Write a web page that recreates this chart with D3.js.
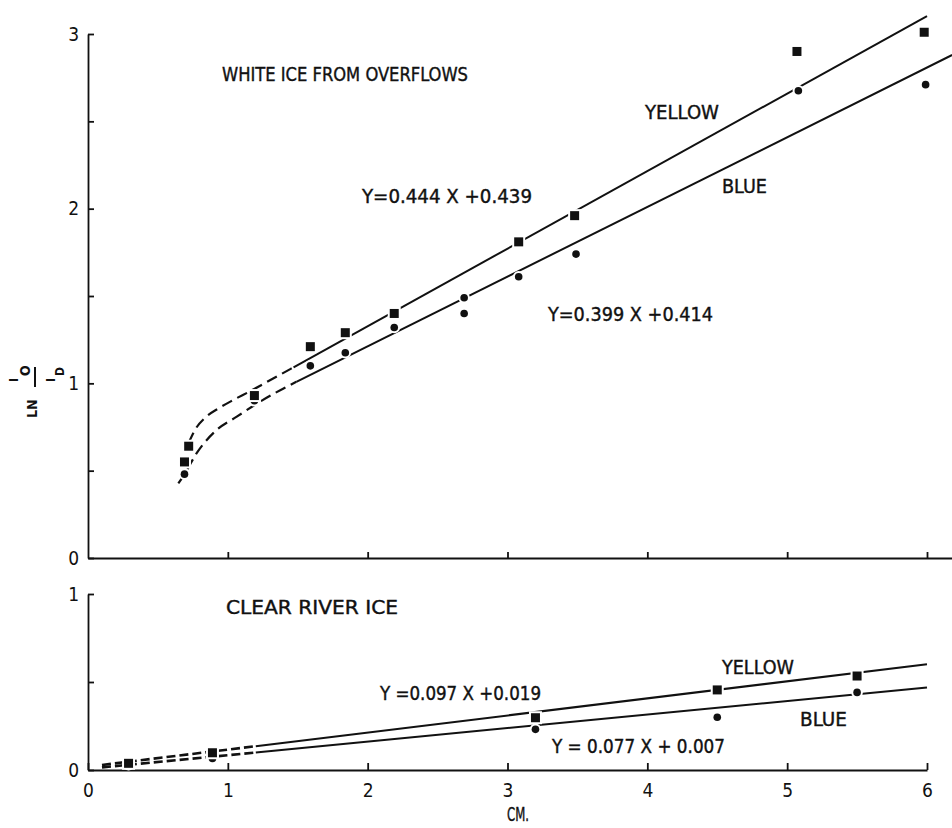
<!DOCTYPE html>
<html>
<head>
<meta charset="utf-8">
<title>Light absorption in ice</title>
<script src="https://d3js.org/d3.v7.min.js"></script>
<style>
  body { margin: 0; background: #fff; }
  svg text { font-family: "DejaVu Sans Condensed", "Liberation Sans Narrow", "DejaVu Sans", sans-serif; fill: #111; }
</style>
</head>
<body>
<div id="chart"></div>
<script>
// white ice from overflows (upper panel)
var topYellowX = [0.69, 0.72, 1.19, 1.59, 1.84, 2.19, 3.08, 3.48, 5.07, 5.98];
var topYellowY = [0.55, 0.64, 0.93, 1.21, 1.29, 1.40, 1.81, 1.96, 2.90, 3.01];
var topBlueX = [0.69, 1.19, 1.59, 1.84, 2.19, 2.69, 2.69, 3.08, 3.49, 5.08, 5.99];
var topBlueY = [0.48, 0.90, 1.10, 1.175, 1.32, 1.49, 1.40, 1.61, 1.74, 2.675, 2.71];
// hand drawn dashed start of the curves
var topYellowDash = [[0.72, 0.66], [0.77, 0.74], [0.84, 0.805], [0.93, 0.855], [1.04, 0.905], [1.16, 0.955], [1.28, 1.008], [1.47, 1.092]];
var topBlueDash = [[0.646, 0.427], [0.694, 0.485], [0.777, 0.60], [0.92, 0.733], [1.064, 0.809], [1.23, 0.895], [1.49, 1.009]];
// fitted lines: slope, intercept, solid from, solid to
var topYellowFit = [0.444, 0.439, 1.47, 6.0];
var topBlueFit = [0.399, 0.414, 1.49, 6.18];

// clear river ice (lower panel)
var botX = [0.29, 0.89, 3.20, 4.50, 5.50];
var botYellowY = [0.038, 0.098, 0.297, 0.455, 0.534];
var botBlueY = [0.03, 0.066, 0.231, 0.30, 0.441];
var botYellowFit = [0.097, 0.019, 1.2, 6.0];
var botBlueFit = [0.077, 0.007, 1.2, 6.0];
var botDashFrom = 0.1;

var xTicks = [0, 1, 2, 3, 4, 5, 6];
var topYTicks = [0, 0.5, 1, 1.5, 2, 2.5, 3];
var botYTicks = [0, 0.5, 1];

var width = 952, height = 828;

var svg = d3.select("#chart")
    .append("svg")
        .attr("width", width)
        .attr("height", height);

var x = d3.scaleLinear().domain([0, 6]).range([88, 927]);
var xTop = d3.scaleLinear().domain([0, x.invert(952)]).range([88, 952]);
var yTop = d3.scaleLinear().domain([0, 3]).range([558, 34]);
var yBot = d3.scaleLinear().domain([0, 1]).range([770, 594]);

function intLabel(d) { return d % 1 === 0 ? d : ""; }

// upper axes
svg.append("g")
    .attr("transform", "translate(" + x(0) + ",0)")
    .call(d3.axisLeft(yTop).tickValues(topYTicks).tickFormat(intLabel).tickSizeInner(-6).tickSizeOuter(0).tickPadding(9));
svg.append("g")
    .attr("transform", "translate(0," + yTop(0) + ")")
    .call(d3.axisBottom(xTop).tickValues(xTicks.slice(1)).tickFormat("").tickSizeInner(-6).tickSizeOuter(0));

// lower axes
svg.append("g")
    .attr("transform", "translate(" + x(0) + ",0)")
    .call(d3.axisLeft(yBot).tickValues(botYTicks).tickFormat(intLabel).tickSizeInner(-6).tickSizeOuter(0).tickPadding(9));
svg.append("g")
    .attr("transform", "translate(0," + yBot(0) + ")")
    .call(d3.axisBottom(x).tickValues(xTicks).tickFormat(d3.format("d")).tickSizeInner(-7).tickSizeOuter(0).tickPadding(14));

svg.selectAll(".domain, .tick line")
    .attr("stroke", "#111")
    .attr("stroke-width", 1.8);
svg.selectAll(".tick text")
    .style("font-size", "19px")
    .attr("fill", "#111");

// lines
var line = d3.line().curve(d3.curveMonotoneX);

function fitPoints(fit, xs, yScale) {
    return [[x(xs[0]), yScale(fit[0] * xs[0] + fit[1])], [x(xs[1]), yScale(fit[0] * xs[1] + fit[1])]];
}

function drawSolid(fit, yScale) {
    svg.append("path")
        .attr("d", line(fitPoints(fit, [fit[2], fit[3]], yScale)))
        .attr("fill", "none")
        .attr("stroke", "#111")
        .attr("stroke-width", 2);
}

drawSolid(topYellowFit, yTop);
drawSolid(topBlueFit, yTop);
drawSolid(botYellowFit, yBot);
drawSolid(botBlueFit, yBot);

[topYellowDash, topBlueDash].forEach(function(pts) {
    svg.append("path")
        .attr("d", line(pts.map(function(p) { return [x(p[0]), yTop(p[1])]; })))
        .attr("fill", "none")
        .attr("stroke", "#111")
        .attr("stroke-width", 2.2)
        .attr("stroke-dasharray", "11,6");
});

[botYellowFit, botBlueFit].forEach(function(fit) {
    svg.append("path")
        .attr("d", line(fitPoints(fit, [botDashFrom, fit[2]], yBot)))
        .attr("fill", "none")
        .attr("stroke", "#111")
        .attr("stroke-width", 2.6)
        .attr("stroke-dasharray", "9,4");
});

// markers (white halo gives the little breaks in the drawn lines)
function squares(xs, ys, yScale) {
    svg.append("g").selectAll("rect")
        .data(xs)
        .enter()
        .append("rect")
            .attr("x", function(d) { return x(d) - 4.5; })
            .attr("y", function(d, i) { return yScale(ys[i]) - 4.5; })
            .attr("width", 9)
            .attr("height", 9)
            .attr("fill", "#111")
            .attr("stroke", "#fff")
            .attr("stroke-width", 4)
            .style("paint-order", "stroke");
}
function circles(xs, ys, yScale) {
    svg.append("g").selectAll("circle")
        .data(xs)
        .enter()
        .append("circle")
            .attr("cx", function(d) { return x(d); })
            .attr("cy", function(d, i) { return yScale(ys[i]); })
            .attr("r", 3.8)
            .attr("fill", "#111")
            .attr("stroke", "#fff")
            .attr("stroke-width", 4)
            .style("paint-order", "stroke");
}

circles(topBlueX, topBlueY, yTop);
squares(topYellowX, topYellowY, yTop);
circles(botX, botBlueY, yBot);
squares(botX, botYellowY, yBot);

// annotations
function label(px, py, str, len) {
    svg.append("text")
        .attr("x", px)
        .attr("y", py)
        .attr("textLength", len)
        .attr("lengthAdjust", "spacingAndGlyphs")
        .style("font-size", "20px")
        .style("stroke", "#111")
        .style("stroke-width", 0.4)
        .text(str);
}

label(222, 81, "WHITE ICE FROM OVERFLOWS", 246);
label(645, 119, "YELLOW", 74);
label(722, 193, "BLUE", 45);
label(362, 203, "Y=0.444  X  +0.439", 170);
label(548, 321, "Y=0.399  X  +0.414", 165);
label(226, 614, "CLEAR RIVER ICE", 172);
label(380, 700, "Y =0.097  X  +0.019", 161);
label(722, 674, "YELLOW", 72);
label(800, 726, "BLUE", 47);
label(552, 753, "Y = 0.077  X  + 0.007", 173);
label(507, 821, "CM.", 22);

// y label: LN Io / ID, rotated
var yl = svg.append("g")
    .attr("transform", "translate(37,418) rotate(-90)")
    .style("font-weight", "bold");
yl.append("text").attr("x", 0).attr("y", 0).style("font-size", "14px").text("LN");
yl.append("line")
    .attr("x1", 31).attr("x2", 51)
    .attr("y1", -2).attr("y2", -2)
    .attr("stroke", "#111").attr("stroke-width", 2);
yl.append("text").attr("x", 36).attr("y", -19).style("font-size", "12px").text("I");
yl.append("text").attr("x", 42).attr("y", -7).style("font-size", "14px").text("O");
yl.append("text").attr("x", 36).attr("y", 18).style("font-size", "12px").text("I");
yl.append("text").attr("x", 42).attr("y", 27).style("font-size", "12px").text("D");
</script>
</body>
</html>
